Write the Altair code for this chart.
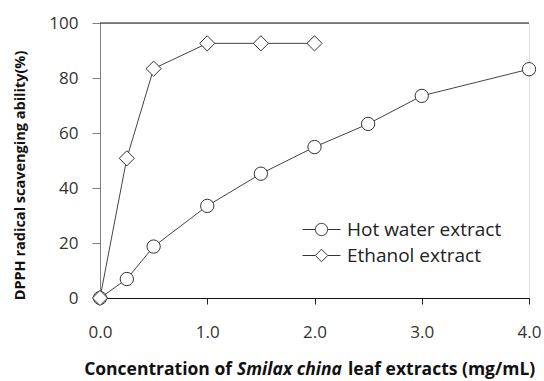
import altair as alt
import pandas as pd

hot_x = [0.0, 0.25, 0.5, 1.0, 1.5, 2.0, 2.5, 3.0, 4.0]
hot_y = [0.0, 6.9, 18.7, 33.5, 45.2, 54.9, 63.3, 73.5, 83.2]
eth_x = [0.0, 0.25, 0.5, 1.0, 1.5, 2.0]
eth_y = [0.0, 50.8, 83.4, 92.6, 92.6, 92.6]
series = ["Hot water extract", "Ethanol extract"]

df = pd.concat([
    pd.DataFrame({"conc": hot_x, "dpph": hot_y, "series": series[0]}),
    pd.DataFrame({"conc": eth_x, "dpph": eth_y, "series": series[1]}),
])
df["key"] = df["series"]

FONT = "Open Sans"
W, H = 429, 275

circle_path = ("M-1.46,0L-0.47,0M0.47,0L1.46,0"
               "M-0.47,0A0.47,0.47,0,1,0,0.47,0A0.47,0.47,0,1,0,-0.47,0")
diamond_path = ("M-1.46,0L-0.48,0M0.48,0L1.46,0"
                "M0,-0.48L0.48,0L0,0.48L-0.48,0Z")

xscale = alt.Scale(domain=[0, 4], nice=False)
yscale = alt.Scale(domain=[0, 100], nice=False)

base = alt.Chart(df)

lines = base.mark_line(color="#444444", strokeWidth=1).encode(
    x=alt.X("conc:Q", scale=xscale,
            axis=alt.Axis(values=[0, 1, 2, 3, 4], format=".1f", title=None,
                          grid=False, domainColor="#111111", tickColor="#222222",
                          tickSize=6, labelPadding=20, labelFont=FONT,
                          labelFlush=False,
                          labelFontSize=17, labelColor="#333333")),
    y=alt.Y("dpph:Q", scale=yscale,
            axis=alt.Axis(values=[0, 20, 40, 60, 80, 100], grid=False,
                          title="DPPH radical scavenging ability(%)",
                          titleFont=FONT, titleFontSize=14.5, titleFontWeight="bold",
                          titleColor="#111111", titleX=-80, titleY=152,
                          titleAlign="center", titleBaseline="middle",
                          domainColor="#808080", tickColor="#808080",
                          tickSize=8, labelPadding=14, labelFont=FONT,
                          labelFlush=False,
                          labelFontSize=17, labelColor="#333333")),
    detail="series:N",
)

legend_layer = base.mark_point(filled=False, color="#333333",
                               strokeWidth=1, size=16, opacity=1).encode(
    x=alt.X("conc:Q", scale=xscale),
    y=alt.Y("dpph:Q", scale=yscale),
    shape=alt.Shape("key:N",
                    scale=alt.Scale(domain=series, range=[circle_path, diamond_path]),
                    legend=alt.Legend(
                        title=None, orient="none", legendX=208, legendY=193,
                        symbolSize=676, symbolStrokeWidth=1, symbolOpacity=1,
                        symbolStrokeColor="#333333",
                        labelFont=FONT, labelFontSize=19, labelColor="#222222",
                        labelOffset=12, rowPadding=2, padding=0)),
)

points = base.mark_point(filled=True, fill="white", stroke="#333333",
                         strokeWidth=1, opacity=1).encode(
    x=alt.X("conc:Q", scale=xscale),
    y=alt.Y("dpph:Q", scale=yscale),
    shape=alt.Shape("series:N",
                    scale=alt.Scale(domain=series, range=["circle", "diamond"]),
                    legend=None),
    size=alt.condition(alt.datum.series == series[0], alt.value(177), alt.value(230)),
)

top_rule = alt.Chart(pd.DataFrame({"a": [0]})).mark_rule(color="#111111", strokeWidth=1).encode(
    x=alt.value(0), x2=alt.value(W), y=alt.value(0))

title_y = 352
TS = 17.5
t1 = alt.Chart(pd.DataFrame({"a": [0]})).mark_text(
    text="Concentration of", font=FONT, fontSize=TS, fontWeight="bold",
    align="right", baseline="alphabetic", color="#111111").encode(
    x=alt.value(132), y=alt.value(title_y))
t2 = alt.Chart(pd.DataFrame({"a": [0]})).mark_text(
    text="Smilax china", font=FONT, fontSize=TS, fontWeight="bold", fontStyle="italic",
    align="left", baseline="alphabetic", color="#111111").encode(
    x=alt.value(137), y=alt.value(title_y))
t3 = alt.Chart(pd.DataFrame({"a": [0]})).mark_text(
    text="leaf extracts (mg/mL)", font=FONT, fontSize=TS, fontWeight="bold",
    align="left", baseline="alphabetic", color="#111111").encode(
    x=alt.value(248), y=alt.value(title_y))

chart = alt.layer(lines, legend_layer, points, top_rule, t1, t2, t3).resolve_scale(
    shape="independent"
).properties(
    width=W, height=H,
    autosize=alt.AutoSizeParams(type="none"),
    padding={"left": 100, "top": 23, "right": 15, "bottom": 83},
).configure_view(stroke="#808080").configure(background="white")

chart.save("out.html", embed_options={"renderer": "svg", "actions": False})
